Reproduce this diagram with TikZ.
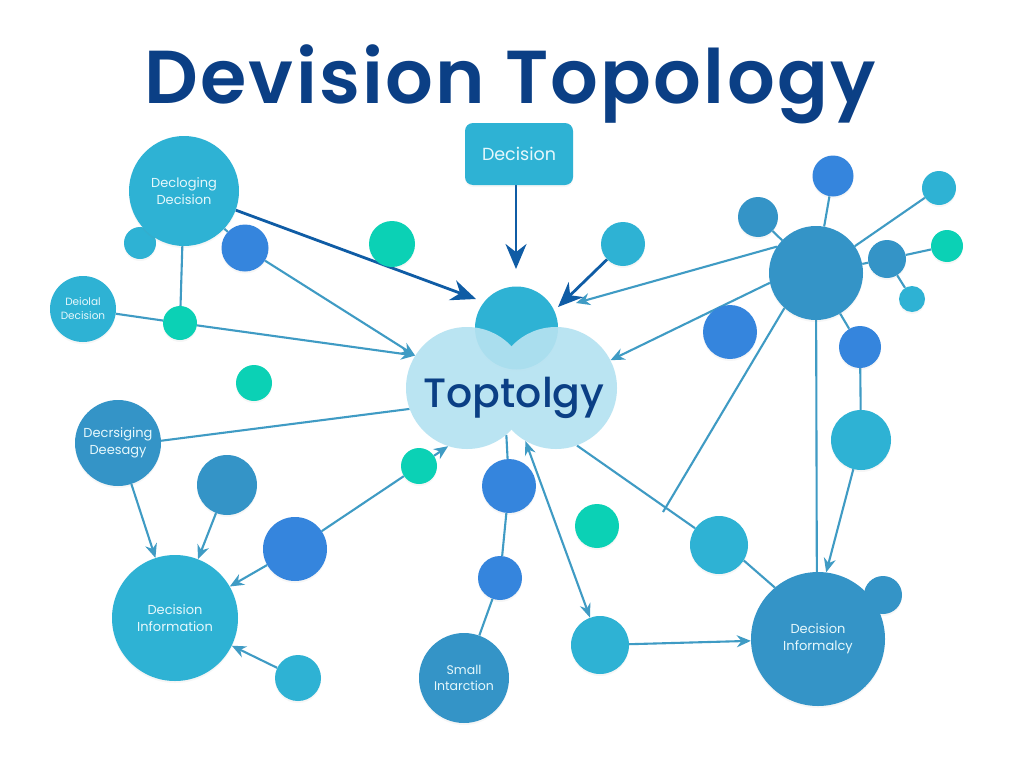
\documentclass[tikz,border=0pt]{standalone}
\usepackage{fontspec}
\setmainfont{Poppins}
\newfontfamily\titlefont[LetterSpace=3]{Poppins SemiBold}
\newfontfamily\hubfont{Poppins Medium}
\usetikzlibrary{arrows.meta,backgrounds,shadows}
\definecolor{cyanball}{HTML}{2EB2D4}
\definecolor{tealball}{HTML}{3494C7}
\definecolor{blueball}{HTML}{3585DD}
\definecolor{greenball}{HTML}{0BD1B5}
\definecolor{linkcol}{HTML}{3F9BC4}
\definecolor{darklink}{HTML}{0F5CA5}
\definecolor{titlecol}{HTML}{0B3F85}
\definecolor{cloudcol}{HTML}{B5E2F1}
\definecolor{labelcol}{HTML}{E6F8FC}
\tikzset{
  ball/.style={circle,inner sep=0pt,align=center,text=labelcol,
    drop shadow={opacity=.07,shadow xshift=0pt,shadow yshift=-2pt}},
  link/.style={linkcol,line width=2.1pt},
  tiplink/.style={link,-{Stealth[length=14pt,width=12pt]}},
  bothlink/.style={link,{Stealth[length=14pt,width=11pt]}-{Stealth[length=14pt,width=11pt]}},
  boldlink/.style={darklink,line width=2.8pt,-{Stealth[length=25pt,width=21pt]}}
}
\begin{document}
\begin{tikzpicture}[x=1pt,y=-1pt]
\useasboundingbox (0,0) rectangle (1024,768);
\node[titlecol,font=\fontsize{75}{75}\titlefont] (title) at (510,84) {Devision Topology};
% left side
\node[ball,fill=cyanball,minimum size=32pt] (leftbud) at (140,243) {};
\node[ball,fill=cyanball,minimum size=110pt,font=\fontsize{13}{17}\selectfont] (declog) at (184,191) {Decloging\\Decision};
\node[ball,fill=blueball,minimum size=47pt] (leftblue) at (245,248) {};
\node[ball,fill=cyanball,minimum size=66pt,font=\fontsize{10.5}{14}\selectfont] (deiolal) at (83,309) {Deiolal\\Decision};
\node[ball,fill=greenball,minimum size=34pt] (leftgreen) at (180,323) {};
\node[ball,fill=greenball,minimum size=36pt] (loosegreen) at (254,383) {};
\node[ball,fill=tealball,minimum size=86pt,font=\fontsize{13}{17}\selectfont] (decrs) at (118,443) {Decrsiging\\Deesagy};
\node[ball,fill=tealball,minimum size=60pt] (lowteal) at (227,485) {};
\node[ball,fill=cyanball,minimum size=126pt,font=\fontsize{13}{17}\selectfont] (info) at (175,618) {Decision\\Information};
\node[ball,fill=blueball,minimum size=64pt] (lowblue) at (295,549) {};
\node[ball,fill=cyanball,minimum size=46pt] (lowcyan) at (298,678) {};
% middle
\node[ball,fill=greenball,minimum size=46pt] (topgreen) at (392,244) {};
\node[ball,fill=cyanball,minimum size=44pt] (topcyan) at (623,244) {};
\node[fill=cyanball,rounded corners=8pt,minimum width=108pt,minimum height=62pt,text=labelcol,font=\fontsize{17.5}{20}\selectfont,
  drop shadow={opacity=.07,shadow xshift=0pt,shadow yshift=-2pt}] (topbox) at (519,154) {Decision};
\node[ball,fill=cyanball,minimum size=83pt] (crown) at (516.5,328) {};
\begin{scope}[transparency group,opacity=.92]
\node[circle,fill=cloudcol,inner sep=0pt,minimum size=122pt] (lobeL) at (467,388) {};
\node[circle,fill=cloudcol,inner sep=0pt,minimum size=122pt] (lobeR) at (556,388) {};
\end{scope}
\node[titlecol,font=\fontsize{41}{41}\hubfont] (hub) at (514,398) {Toptolgy};
\node[ball,fill=greenball,minimum size=36pt] (midgreen) at (419,466) {};
\node[ball,fill=blueball,minimum size=54pt] (midblue) at (509,486) {};
\node[ball,fill=blueball,minimum size=44pt] (subblue) at (500,578) {};
\node[ball,fill=tealball,minimum size=90pt,font=\fontsize{12.5}{16}\selectfont] (small) at (464,678) {Small\\Intarction};
\node[ball,fill=greenball,minimum size=44pt] (sidegreen) at (597,526) {};
\node[ball,fill=cyanball,minimum size=58pt] (lowmid) at (600,645) {};
% right side
\node[ball,fill=tealball,minimum size=94pt] (rhub) at (816,273) {};
\node[ball,fill=blueball,minimum size=41pt] (rtop) at (833,176) {};
\node[ball,fill=tealball,minimum size=40pt] (rleft) at (758,217) {};
\node[ball,fill=cyanball,minimum size=34pt] (rcyan) at (939,188) {};
\node[ball,fill=tealball,minimum size=38pt] (rmid) at (887,259) {};
\node[ball,fill=greenball,minimum size=32pt] (rgreen) at (947,246) {};
\node[ball,fill=cyanball,minimum size=26pt] (rsmall) at (912,299) {};
\node[ball,fill=blueball,minimum size=54pt] (rblue) at (730,332) {};
\node[ball,fill=blueball,minimum size=42pt] (rblue2) at (860,347) {};
\node[ball,fill=cyanball,minimum size=60pt] (rcyan2) at (861,440) {};
\node[ball,fill=cyanball,minimum size=58pt] (lowright) at (719,545) {};
\node[ball,fill=tealball,minimum size=38pt] (rbud) at (883,595) {};
\node[ball,fill=tealball,minimum size=134pt,font=\fontsize{13}{17}\selectfont] (informal) at (818,639) {Decision\\Informalcy};
% free ends
\coordinate (tipdeclog) at (476,299);
\coordinate (tipbox) at (516,269);
\coordinate (tipcyan) at (558,307);
\coordinate (tiprhub) at (576,303);
\coordinate (tailend) at (663,512);
\begin{scope}[on background layer]
\fill[white] (0,0) rectangle (1024,768);
\draw[link] (declog)--(leftblue);
\draw[link] (declog)--(leftgreen);
\draw[link] (deiolal)--(leftgreen);
\draw[tiplink] (leftblue)--(lobeL.148);
\draw[tiplink] (leftgreen)--(lobeL.148);
\draw[link] (decrs.3)--(lobeL.200);
\draw[tiplink] (decrs)--(info);
\draw[tiplink] (lowteal)--(info);
\draw[tiplink] (lowblue)--(info);
\draw[tiplink] (lowcyan)--(info);
\draw[link] (lowblue)--(midgreen);
\draw[tiplink] (midgreen)--(lobeL.-108);
\draw[link] (midblue)--(lobeL.-50);
\draw[link] (midblue)--(subblue);
\draw[link] (subblue)--(small);
\draw[bothlink] (lobeR.240)--(lowmid);
\draw[tiplink] (lowmid)--(informal);
\draw[link] (lobeR.-70)--(lowright);
\draw[link] (lowright.-32)--(informal.130);
\draw[link] (rhub.228)--(tailend);
\draw[link] (rhub)--(informal.91);
\draw[tiplink] (rcyan2)--(informal.83);
\draw[link] (rhub)--(rblue2);
\draw[link] (rblue2)--(rcyan2);
\draw[link] (rhub)--(rtop);
\draw[link] (rhub)--(rleft);
\draw[link] (rhub)--(rcyan);
\draw[link] (rhub)--(rmid);
\draw[link] (rmid)--(rgreen);
\draw[link] (rmid)--(rsmall);
\draw[tiplink] (rhub.146)--(tiprhub);
\draw[tiplink] (rhub.192)--(lobeR.27);
\draw[boldlink] (declog)--(tipdeclog);
\draw[boldlink] (topbox.south -| tipbox)--(tipbox);
\draw[boldlink] (topcyan)--(tipcyan);
\end{scope}
\end{tikzpicture}
\end{document}
